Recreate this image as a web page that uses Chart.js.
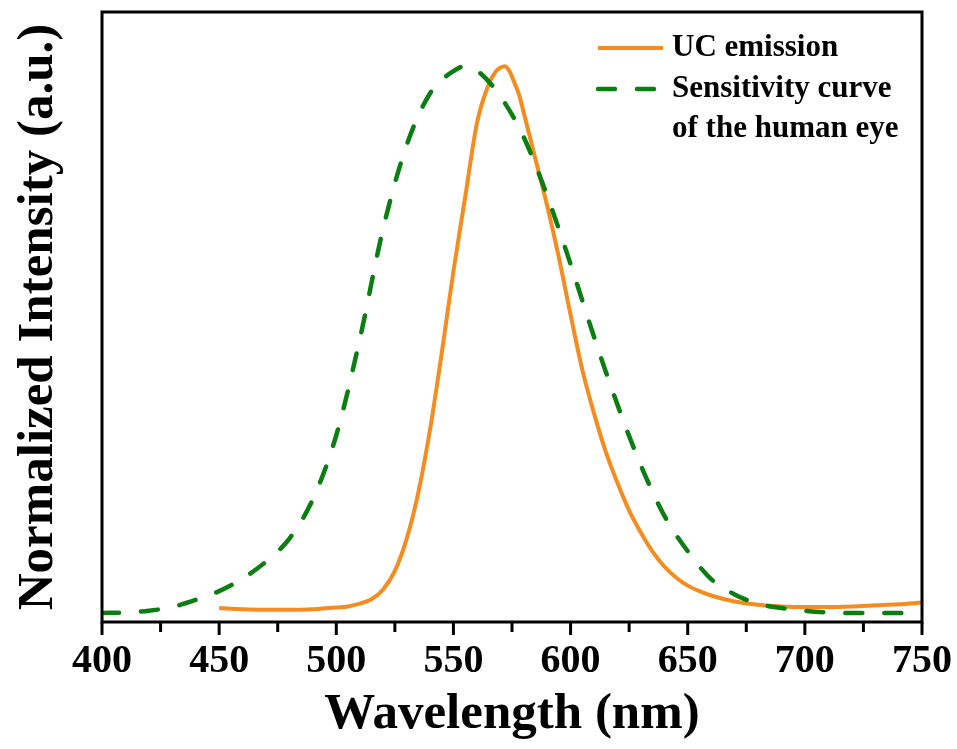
<!DOCTYPE html>
<html>
<head>
<meta charset="utf-8">
<title>UC emission vs eye sensitivity</title>
<script src="https://cdn.jsdelivr.net/npm/chart.js@4.4.1/dist/chart.umd.min.js"></script>
<style>
  body { margin: 0; background: #fff; }
  #wrap { width: 957px; height: 749px; }
</style>
</head>
<body>
<div id="wrap"><canvas id="spectrum" width="957" height="749"></canvas></div>
<script>
// --- data (wavelength in nm, normalized intensity) ---
const ucWavelength = [450, 460, 470, 480, 490, 500, 505, 510, 515, 520, 525, 530, 535, 540, 545, 550, 555, 560, 565, 568, 570, 572, 574, 576, 578, 580, 585, 590, 595, 600, 605, 610, 615, 620, 625, 630, 635, 640, 645, 650, 655, 660, 670, 680, 690, 700, 710, 720, 730, 740, 750];
const ucIntensity  = [0.009, 0.007, 0.006, 0.006, 0.007, 0.010, 0.012, 0.017, 0.025, 0.043, 0.077, 0.135, 0.220, 0.335, 0.475, 0.625, 0.760, 0.895, 0.966, 0.990, 0.997, 1.000, 0.990, 0.970, 0.948, 0.915, 0.830, 0.745, 0.650, 0.545, 0.445, 0.365, 0.295, 0.238, 0.187, 0.147, 0.112, 0.085, 0.065, 0.050, 0.040, 0.032, 0.021, 0.015, 0.012, 0.011, 0.011, 0.012, 0.014, 0.016, 0.019];

const eyeWavelength  = [400, 410, 420, 430, 440, 450, 460, 470, 480, 490, 500, 510, 520, 530, 540, 550, 555, 560, 570, 580, 590, 600, 610, 620, 630, 640, 650, 660, 670, 680, 690, 700, 710, 720, 730, 740, 750];
const eyeSensitivity = [0.000, 0.001, 0.004, 0.011, 0.024, 0.040, 0.063, 0.094, 0.136, 0.208, 0.325, 0.500, 0.703, 0.855, 0.950, 0.991, 1.000, 0.992, 0.945, 0.870, 0.763, 0.638, 0.505, 0.381, 0.270, 0.178, 0.113, 0.062, 0.034, 0.017, 0.009, 0.004, 0.001, 0.000, 0.000, 0.000, 0.000];

const seriesNames = ['UC emission', ['Sensitivity curve', 'of the human eye']];
const xRange = [400, 750];

const serif = "'Liberation Serif', 'Times New Roman', serif";
const orange = '#f68b1f';
const green = '#0b7e12';

// box frame + outward ticks (major every 50, minor every 25)
const framePlugin = {
    id: 'frame',
    afterDatasetsDraw(chart) {
        const { ctx, chartArea: a, scales: { x } } = chart;
        ctx.save();
        ctx.strokeStyle = '#000';
        ctx.lineWidth = 3;
        ctx.strokeRect(a.left, a.top, a.right - a.left, a.bottom - a.top);
        x.ticks.forEach(t => {
            const px = x.getPixelForValue(t.value);
            const len = t.value % 50 === 0 ? 13 : 10;
            ctx.beginPath();
            ctx.moveTo(px, a.bottom);
            ctx.lineTo(px, a.bottom + len);
            ctx.stroke();
        });
        ctx.restore();
    }
};

// legend in the upper right corner, two-line label for the eye curve
const legendPlugin = {
    id: 'cornerLegend',
    afterDraw(chart) {
        const ctx = chart.ctx;
        const x0 = 598, x1 = 663, tx = 672;
        const rows = [48, 89];
        ctx.save();
        ctx.font = `bold 31px ${serif}`;
        ctx.textBaseline = 'middle';
        ctx.fillStyle = '#000';
        chart.data.datasets.forEach((ds, i) => {
            const y = rows[i];
            ctx.beginPath();
            ctx.strokeStyle = ds.borderColor;
            ctx.lineWidth = ds.borderWidth;
            ctx.lineCap = ds.borderCapStyle || 'butt';
            ctx.setLineDash(ds.borderDash || []);
            ctx.moveTo(x0, y);
            ctx.lineTo(x1, y);
            ctx.stroke();
            ctx.setLineDash([]);
            const lines = Array.isArray(ds.label) ? ds.label : [ds.label];
            lines.forEach((txt, j) => ctx.fillText(txt, tx, y + j * 40));
        });
        ctx.restore();
    }
};

new Chart(document.getElementById('spectrum'), {
    type: 'line',
    data: {
        datasets: [
            {
                label: seriesNames[0],
                data: ucWavelength.map((w, i) => ({ x: w, y: ucIntensity[i] })),
                borderColor: orange,
                borderWidth: 4,
                pointRadius: 0,
                cubicInterpolationMode: 'monotone',
                fill: false,
                order: 2
            },
            {
                label: seriesNames[1],
                data: eyeWavelength.map((w, i) => ({ x: w, y: eyeSensitivity[i] })),
                borderColor: green,
                borderWidth: 4.5,
                borderDash: [17, 22],
                borderCapStyle: 'round',
                pointRadius: 0,
                cubicInterpolationMode: 'monotone',
                fill: false,
                order: 1
            }
        ]
    },
    options: {
        responsive: false,
        animation: false,
        devicePixelRatio: 1,
        layout: { padding: { top: 12, right: 35, left: 0, bottom: 0 } },
        plugins: { legend: { display: false }, tooltip: { enabled: false } },
        scales: {
            x: {
                type: 'linear',
                min: xRange[0],
                max: xRange[1],
                grid: { display: false, drawTicks: false },
                border: { display: false },
                ticks: {
                    stepSize: 25,
                    autoSkip: false,
                    maxRotation: 0,
                    minRotation: 0,
                    padding: 16,
                    color: '#000',
                    font: { family: serif, size: 40, weight: 'bold' },
                    callback: v => (v % 50 === 0 ? v : '')
                },
                title: {
                    display: true,
                    text: 'Wavelength (nm)',
                    color: '#000',
                    font: { family: serif, size: 51, weight: 'bold' },
                    padding: { top: 0 }
                },
                afterFit: s => { s.height = 127; s.paddingRight = 0; s.paddingLeft = 0; }
            },
            y: {
                min: -0.0165,
                max: 1.099,
                grid: { display: false, drawTicks: false },
                border: { display: false },
                ticks: { display: false },
                title: {
                    display: true,
                    text: 'Normalized Intensity (a.u.)',
                    color: '#000',
                    font: { family: serif, size: 51, weight: 'bold' },
                    padding: { top: 8 }
                },
                afterFit: s => { s.width = 102; }
            }
        }
    },
    plugins: [framePlugin, legendPlugin]
});
</script>
</body>
</html>
